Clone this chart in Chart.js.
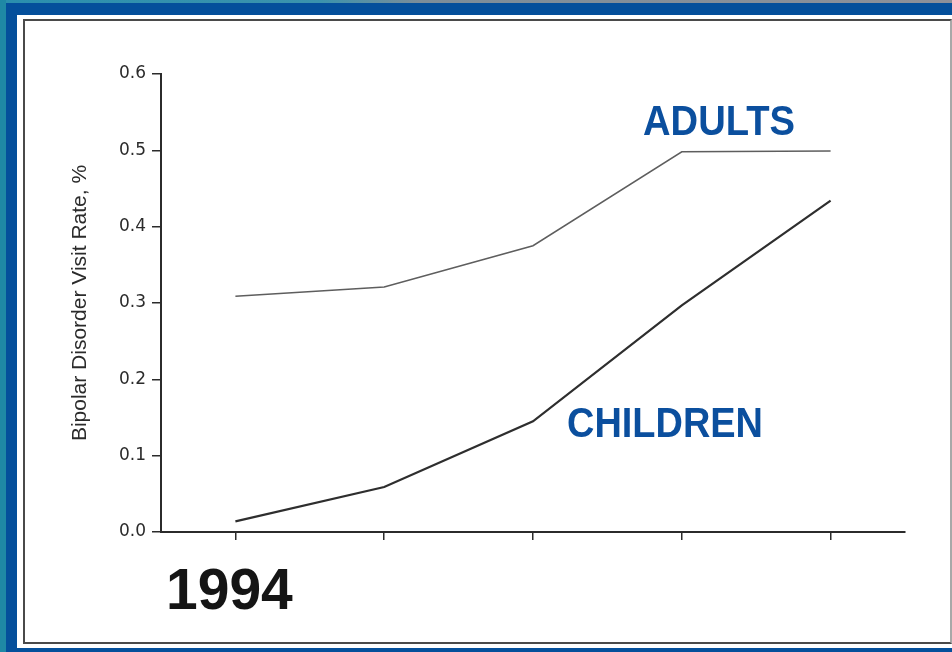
<!DOCTYPE html>
<html>
<head>
<meta charset="utf-8">
<script src="https://cdn.jsdelivr.net/npm/chart.js@4.4.1/dist/chart.umd.min.js"></script>
<style>
  body {
    margin: 0;
    width: 952px;
    height: 652px;
    background: #044f9b;
    position: relative;
    overflow: hidden;
  }
  #strip-top {
    position: absolute; left: 0; top: 0; width: 952px; height: 3px;
    background: linear-gradient(to right, #2a8fae 0, #3b93ad 320px, #7c8d99 420px, #8d9099 100%);
  }
  #strip-left {
    position: absolute; left: 0; top: 0; width: 6px; height: 652px;
    background: #1f88a5;
  }
  #panel {
    position: absolute; left: 17px; top: 15px; width: 935px; height: 633px;
    background: #fff;
  }
  #frame {
    position: absolute; left: 23px; top: 19px; width: 925px; height: 621px;
    border: 2px solid #4a4a4a;
    border-right-color: #a8a8a8;
  }
  #chart { position: absolute; left: 0; top: 0; }
</style>
</head>
<body>
<div id="strip-top"></div>
<div id="strip-left"></div>
<div id="panel"></div>
<div id="frame"></div>
<canvas id="chart" width="952" height="652"></canvas>
<script>
// visit rate (%) per survey period
const periods = ['1994', '1996', '1998', '2000', '2002'];
const tickLabels = ['1994', '', '', '', ''];
const adults = [0.309, 0.321, 0.375, 0.498, 0.499];
const children = [0.014, 0.059, 0.145, 0.297, 0.434];
const yTicks = [0, 0.1, 0.2, 0.3, 0.4, 0.5, 0.6];

const axisColor = '#2b2b2b';
const labelBlue = '#0b4f9e';

// series names written next to the lines
const seriesLabels = {
  id: 'seriesLabels',
  afterDatasetsDraw(chart) {
    const ctx = chart.ctx;
    ctx.save();
    ctx.fillStyle = labelBlue;
    ctx.font = 'bold 42px "Liberation Sans", Arial, sans-serif';
    ctx.textBaseline = 'alphabetic';
    ctx.textAlign = 'left';
    ctx.fillText(chart.data.datasets[0].label, 643, 135, 152);
    ctx.fillText(chart.data.datasets[1].label, 567, 437, 196);
    ctx.restore();
  }
};

new Chart(document.getElementById('chart'), {
  type: 'line',
  data: {
    labels: periods,
    datasets: [
      {
        label: 'ADULTS',
        data: adults,
        borderColor: '#5e5e5e',
        borderWidth: 1.5,
        pointRadius: 0,
        tension: 0
      },
      {
        label: 'CHILDREN',
        data: children,
        borderColor: '#2e2e2e',
        borderWidth: 2.2,
        pointRadius: 0,
        tension: 0
      }
    ]
  },
  options: {
    responsive: false,
    animation: false,
    layout: { padding: { left: 0, top: 74, right: 47, bottom: 10 } },
    plugins: {
      legend: { display: false },
      tooltip: { enabled: false }
    },
    scales: {
      x: {
        type: 'category',
        offset: true,
        grid: { drawOnChartArea: false, offset: false, tickLength: 8, color: axisColor, lineWidth: 1.5 },
        border: { color: axisColor, width: 2 },
        ticks: {
          color: '#151515',
          padding: 19,
          labelOffset: -6,
          maxRotation: 0,
          autoSkip: false,
          font: { family: '"Liberation Sans", Arial, sans-serif', size: 57, weight: 'bold' },
          callback: (v, i) => tickLabels[i]
        },
        afterFit: (scale) => { scale.height = 110; }
      },
      y: {
        min: 0,
        max: 0.6,
        afterBuildTicks: (scale) => { scale.ticks = yTicks.map(v => ({ value: v })); },
        grid: { drawOnChartArea: false, tickLength: 9, color: axisColor, lineWidth: 1.5 },
        border: { color: axisColor, width: 2 },
        ticks: {
          color: axisColor,
          padding: 6,
          font: { family: '"DejaVu Sans", sans-serif', size: 17 },
          callback: (v) => v.toFixed(1)
        },
        title: {
          display: true,
          text: 'Bipolar Disorder Visit Rate, %',
          color: axisColor,
          padding: { top: 68, bottom: 0 },
          font: { family: '"Liberation Sans", Arial, sans-serif', size: 21 }
        },
        afterFit: (scale) => { scale.width = 161; }
      }
    }
  },
  plugins: [seriesLabels]
});
</script>
</body>
</html>
